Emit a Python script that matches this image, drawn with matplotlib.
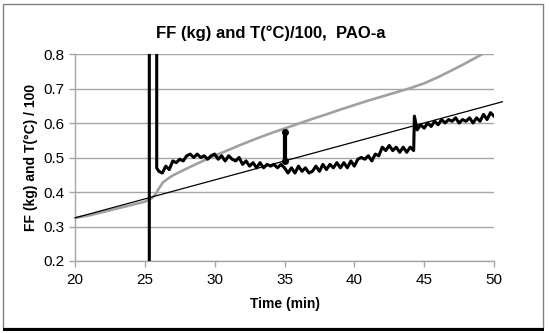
import numpy as np
import matplotlib.pyplot as plt
from matplotlib.patches import Rectangle

plt.rcParams['font.family'] = ['Liberation Sans', 'DejaVu Sans']

# temperature / 100 (gray curve)
t_time = [20, 21, 22, 23, 24, 25, 25.5, 25.8, 26.0, 26.3, 26.7, 27, 28, 29, 30, 31, 32, 33, 34, 35,
          36, 37, 38, 39, 40, 41, 42, 43, 44, 45, 46, 47, 48, 49, 49.4]
t_val = [0.325, 0.332, 0.342, 0.352, 0.362, 0.372, 0.382, 0.395, 0.41, 0.428, 0.44, 0.448, 0.468, 0.487,
         0.505, 0.522, 0.539, 0.555, 0.57, 0.584, 0.598, 0.612, 0.625, 0.639, 0.652, 0.665, 0.677,
         0.689, 0.701, 0.715, 0.733, 0.753, 0.774, 0.796, 0.806]

# friction force (black curve)
ff_time = [25.32, 25.32, 25.85, 25.85] + list(np.arange(26.0, 44.26, 0.25)) + [44.3] + list(np.arange(44.5, 50.01, 0.25))
ff_val = [0.15, 1.0, 1.0, 0.47,
          0.46, 0.455, 0.475, 0.465, 0.49, 0.485, 0.495, 0.49, 0.505, 0.51, 0.50, 0.51,
          0.50, 0.505, 0.495, 0.505, 0.51, 0.495, 0.505, 0.49, 0.505, 0.495, 0.49, 0.50,
          0.48, 0.49, 0.475, 0.485, 0.47, 0.485, 0.47, 0.48, 0.475, 0.48, 0.47, 0.48,
          0.47, 0.455, 0.47, 0.455, 0.475, 0.46, 0.47, 0.455, 0.46, 0.475, 0.46, 0.48,
          0.465, 0.48, 0.47, 0.485, 0.47, 0.485, 0.47, 0.49, 0.475, 0.495, 0.50, 0.495,
          0.505, 0.49, 0.51, 0.505, 0.53, 0.52, 0.535, 0.52, 0.53, 0.515, 0.53, 0.515,
          0.53, 0.52,
          0.62,
          0.58, 0.595, 0.585, 0.60, 0.59, 0.605, 0.595, 0.61, 0.60, 0.61, 0.605, 0.615,
          0.60, 0.61, 0.605, 0.615, 0.60, 0.615, 0.605, 0.625, 0.61, 0.63, 0.62]

# straight reference line
lin_time = [20, 50.6]
lin_val = [0.325, 0.325 + 30.6 * 0.011]

# double arrow at 35 min
arr_time = [35, 35]
arr_val = [0.49, 0.575]

fig = plt.figure(figsize=(5.49, 3.33), dpi=100)
ax = fig.add_axes([75 / 549, 72 / 333, 419 / 549, 207 / 333])

ax.plot(t_time, t_val, color='#a0a0a0', lw=1.9, zorder=2)
ax.plot(lin_time, lin_val, color='black', lw=0.9, zorder=3, clip_on=False)
ax.plot(ff_time, ff_val, color='black', lw=2.2, zorder=4)
ax.plot(arr_time, arr_val, color='black', lw=3, marker='o', ms=4, zorder=5)

ax.set_xlim(20, 50)
ax.set_ylim(0.2, 0.8)
ax.set_xticks([20, 25, 30, 35, 40, 45, 50])
ax.set_yticks([0.2, 0.3, 0.4, 0.5, 0.6, 0.7, 0.8])
ax.set_yticklabels(['0.2', '0.3', '0.4', '0.5', '0.6', '0.7', '0.8'])
ax.grid(axis='y', color='#a6a6a6', lw=1)
ax.set_axisbelow(True)
for s in ['top', 'right']:
    ax.spines[s].set_visible(False)
for s in ['left', 'bottom']:
    ax.spines[s].set_color('#a6a6a6')
    ax.spines[s].set_linewidth(1)
ax.tick_params(colors='#a6a6a6', labelcolor='black', labelsize=11, length=4, width=1)
ax.tick_params(axis='x', pad=5)

ax.set_xlabel('Time (min)', fontsize=10, fontweight='bold', labelpad=7)
ax.set_ylabel('FF (kg) and T(°C) / 100', fontsize=10, fontweight='bold', labelpad=4)
fig.text(271 / 549, 300 / 333, 'FF (kg) and T(°C)/100,  PAO-a', fontsize=12, fontweight='bold',
         ha='center', va='center')

fig.patches.append(Rectangle((3 / 549, 5 / 333), 540 / 549, 324 / 333, transform=fig.transFigure,
                             fill=False, edgecolor='#808080', lw=1))
fig.patches.append(Rectangle((3 / 549, 2 / 333), 541 / 549, 3 / 333, transform=fig.transFigure,
                             facecolor='black', edgecolor='none'))

fig.savefig('out.png', dpi=100)
